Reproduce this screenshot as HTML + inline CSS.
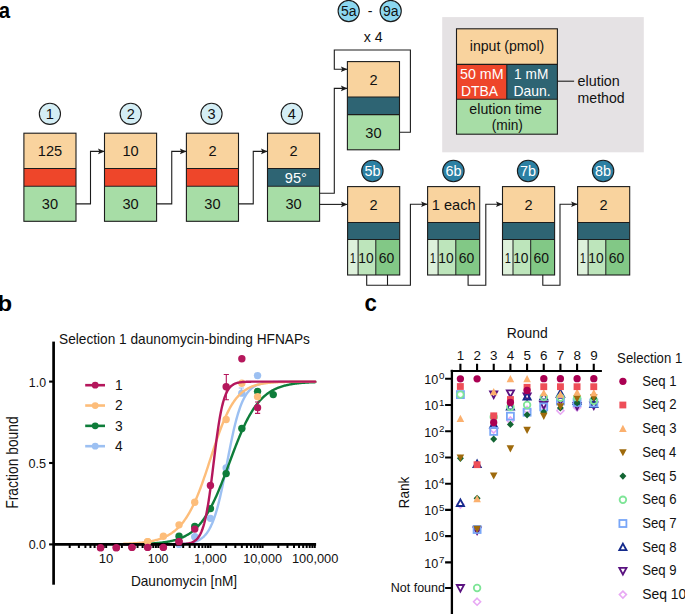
<!DOCTYPE html><html><head><meta charset="utf-8"><style>html,body{margin:0;padding:0;background:#fff;}svg{display:block;}</style></head><body>
<svg width="685" height="614" viewBox="0 0 685 614" font-family="'Liberation Sans', sans-serif">
<rect width="685" height="614" fill="#fff"/>
<text x="-1.21" y="17.80" font-size="22.6" fill="#000" font-weight="bold" textLength="11.33" lengthAdjust="spacingAndGlyphs">a</text>
<text x="-2.46" y="311.30" font-size="22.2" fill="#000" font-weight="bold" textLength="14.64" lengthAdjust="spacingAndGlyphs">b</text>
<text x="364.61" y="311.40" font-size="23" fill="#000" font-weight="bold" textLength="12.38" lengthAdjust="spacingAndGlyphs">c</text>
<rect x="23.9" y="133.2" width="52.1" height="35.30000000000001" fill="#f9d39e"/>
<rect x="23.9" y="168.5" width="52.1" height="17.80000000000001" fill="#ee462a"/>
<rect x="23.9" y="186.3" width="52.1" height="35.0" fill="#a7dda6"/>
<text x="49.95" y="209.3" font-size="14.6" text-anchor="middle" fill="#111" font-weight="normal" >30</text>
<path d="M23.9 168.5H76.0M23.9 186.3H76.0" stroke="#1c1c1c" stroke-width="1.1" fill="none"/>
<rect x="23.9" y="133.2" width="52.1" height="88.10000000000002" fill="none" stroke="#1c1c1c" stroke-width="1.1"/>
<text x="49.95" y="156.45" font-size="14.6" text-anchor="middle" fill="#111" font-weight="normal" >125</text>
<circle cx="49.9" cy="113.8" r="10.6" fill="#d4eef5" stroke="#1c1c1c" stroke-width="1.1"/>
<text x="49.9" y="118.89999999999999" font-size="14.6" text-anchor="middle" fill="#111" font-weight="normal" >1</text>
<rect x="104.5" y="133.2" width="52.1" height="35.30000000000001" fill="#f9d39e"/>
<rect x="104.5" y="168.5" width="52.1" height="17.80000000000001" fill="#ee462a"/>
<rect x="104.5" y="186.3" width="52.1" height="35.0" fill="#a7dda6"/>
<text x="130.55" y="209.3" font-size="14.6" text-anchor="middle" fill="#111" font-weight="normal" >30</text>
<path d="M104.5 168.5H156.6M104.5 186.3H156.6" stroke="#1c1c1c" stroke-width="1.1" fill="none"/>
<rect x="104.5" y="133.2" width="52.1" height="88.10000000000002" fill="none" stroke="#1c1c1c" stroke-width="1.1"/>
<text x="130.55" y="156.45" font-size="14.6" text-anchor="middle" fill="#111" font-weight="normal" >10</text>
<circle cx="130.7" cy="113.8" r="10.6" fill="#d4eef5" stroke="#1c1c1c" stroke-width="1.1"/>
<text x="130.7" y="118.89999999999999" font-size="14.6" text-anchor="middle" fill="#111" font-weight="normal" >2</text>
<rect x="186.4" y="133.2" width="52.1" height="35.30000000000001" fill="#f9d39e"/>
<rect x="186.4" y="168.5" width="52.1" height="17.80000000000001" fill="#ee462a"/>
<rect x="186.4" y="186.3" width="52.1" height="35.0" fill="#a7dda6"/>
<text x="212.45000000000002" y="209.3" font-size="14.6" text-anchor="middle" fill="#111" font-weight="normal" >30</text>
<path d="M186.4 168.5H238.5M186.4 186.3H238.5" stroke="#1c1c1c" stroke-width="1.1" fill="none"/>
<rect x="186.4" y="133.2" width="52.1" height="88.10000000000002" fill="none" stroke="#1c1c1c" stroke-width="1.1"/>
<text x="212.45000000000002" y="156.45" font-size="14.6" text-anchor="middle" fill="#111" font-weight="normal" >2</text>
<circle cx="211.5" cy="113.8" r="10.6" fill="#d4eef5" stroke="#1c1c1c" stroke-width="1.1"/>
<text x="211.5" y="118.89999999999999" font-size="14.6" text-anchor="middle" fill="#111" font-weight="normal" >3</text>
<rect x="267.5" y="133.2" width="52.1" height="35.30000000000001" fill="#f9d39e"/>
<rect x="267.5" y="168.5" width="52.1" height="17.80000000000001" fill="#2e6473"/>
<rect x="267.5" y="186.3" width="52.1" height="35.0" fill="#a7dda6"/>
<text x="293.55" y="209.3" font-size="14.6" text-anchor="middle" fill="#111" font-weight="normal" >30</text>
<path d="M267.5 168.5H319.6M267.5 186.3H319.6" stroke="#1c1c1c" stroke-width="1.1" fill="none"/>
<rect x="267.5" y="133.2" width="52.1" height="88.10000000000002" fill="none" stroke="#1c1c1c" stroke-width="1.1"/>
<text x="293.55" y="156.45" font-size="14.6" text-anchor="middle" fill="#111" font-weight="normal" >2</text>
<text x="295.85" y="182.6" font-size="14.6" text-anchor="middle" fill="#fff" font-weight="normal" >95°</text>
<circle cx="291.8" cy="113.8" r="10.6" fill="#d4eef5" stroke="#1c1c1c" stroke-width="1.1"/>
<text x="291.8" y="118.89999999999999" font-size="14.6" text-anchor="middle" fill="#111" font-weight="normal" >4</text>
<path d="M75.9 203.9 L90.5 203.9 L90.5 151.4 L104.5 151.4" stroke="#1c1c1c" stroke-width="1.1" fill="none"/>
<path d="M104.5 151.4 L98.0 148.6 L99.3 151.4 L98.0 154.20000000000002 Z" fill="#1c1c1c"/>
<path d="M156.5 203.9 L171.75 203.9 L171.75 151.4 L186.4 151.4" stroke="#1c1c1c" stroke-width="1.1" fill="none"/>
<path d="M186.4 151.4 L179.9 148.6 L181.20000000000002 151.4 L179.9 154.20000000000002 Z" fill="#1c1c1c"/>
<path d="M238.4 203.9 L253.25 203.9 L253.25 151.4 L267.5 151.4" stroke="#1c1c1c" stroke-width="1.1" fill="none"/>
<path d="M267.5 151.4 L261.0 148.6 L262.3 151.4 L261.0 154.20000000000002 Z" fill="#1c1c1c"/>
<rect x="347.4" y="61.6" width="52.1" height="35.4" fill="#f9d39e"/>
<rect x="347.4" y="97.0" width="52.1" height="17.599999999999994" fill="#2e6473"/>
<rect x="347.4" y="114.6" width="52.1" height="35.20000000000002" fill="#a7dda6"/>
<text x="373.45" y="137.7" font-size="14.6" text-anchor="middle" fill="#111" font-weight="normal" >30</text>
<path d="M347.4 97.0H399.5M347.4 114.6H399.5" stroke="#1c1c1c" stroke-width="1.1" fill="none"/>
<rect x="347.4" y="61.6" width="52.1" height="88.20000000000002" fill="none" stroke="#1c1c1c" stroke-width="1.1"/>
<text x="373.45" y="84.89999999999999" font-size="14.6" text-anchor="middle" fill="#111" font-weight="normal" >2</text>
<path d="M319.6 193.2 L334.3 193.2 L334.3 88.4 L347.4 88.4" stroke="#1c1c1c" stroke-width="1.1" fill="none"/>
<path d="M347.4 88.4 L340.9 85.60000000000001 L342.2 88.4 L340.9 91.2 Z" fill="#1c1c1c"/>
<path d="M399.5 132.3 L410.4 132.3 L410.4 50 L334.3 50 L334.3 69.3 L347.4 69.3" stroke="#1c1c1c" stroke-width="1.1" fill="none"/>
<path d="M347.4 69.3 L340.9 66.5 L342.2 69.3 L340.9 72.1 Z" fill="#1c1c1c"/>
<text x="373.3" y="41.8" font-size="14.2" text-anchor="middle" fill="#111" font-weight="normal" >x 4</text>
<circle cx="348.7" cy="11" r="10.6" fill="#8cd7f0" stroke="#1c1c1c" stroke-width="1.1"/>
<text x="348.7" y="16.1" font-size="14.0" text-anchor="middle" fill="#111" font-weight="normal" >5a</text>
<circle cx="390.7" cy="11" r="10.6" fill="#8cd7f0" stroke="#1c1c1c" stroke-width="1.1"/>
<text x="390.7" y="16.1" font-size="14.0" text-anchor="middle" fill="#111" font-weight="normal" >9a</text>
<text x="370" y="15.8" font-size="14.2" text-anchor="middle" fill="#111" font-weight="normal" >-</text>
<rect x="442.2" y="17.1" width="201.6" height="135.2" fill="#e5e2e4"/>
<rect x="456.5" y="28.8" width="100.89999999999998" height="35.60000000000001" fill="#f9d39e"/>
<rect x="456.5" y="64.4" width="50.30000000000001" height="34.9" fill="#ee462a"/>
<rect x="506.8" y="64.4" width="50.599999999999966" height="34.9" fill="#2e6473"/>
<rect x="456.5" y="99.3" width="100.89999999999998" height="34.9" fill="#a7dda6"/>
<path d="M456.5 64.4H557.4M456.5 99.3H557.4M506.8 64.4V99.3" stroke="#1c1c1c" stroke-width="1.1"/>
<rect x="456.5" y="28.8" width="100.89999999999998" height="105.39999999999999" fill="none" stroke="#1c1c1c" stroke-width="1.1"/>
<text x="507" y="51.1" font-size="14.6" text-anchor="middle" fill="#111" font-weight="normal" textLength="74.5" lengthAdjust="spacingAndGlyphs" >input (pmol)</text>
<text x="481.8" y="78.6" font-size="14.6" text-anchor="middle" fill="#fff" font-weight="normal" textLength="43.5" lengthAdjust="spacingAndGlyphs" >50 mM</text>
<text x="479.5" y="95.5" font-size="14.6" text-anchor="middle" fill="#fff" font-weight="normal" textLength="37" lengthAdjust="spacingAndGlyphs" >DTBA</text>
<text x="531.2" y="78.6" font-size="14.6" text-anchor="middle" fill="#fff" font-weight="normal" textLength="34.2" lengthAdjust="spacingAndGlyphs" >1 mM</text>
<text x="532" y="95.5" font-size="14.6" text-anchor="middle" fill="#fff" font-weight="normal" textLength="37.2" lengthAdjust="spacingAndGlyphs" >Daun.</text>
<text x="505.6" y="114.4" font-size="14.6" text-anchor="middle" fill="#111" font-weight="normal" textLength="72.5" lengthAdjust="spacingAndGlyphs" >elution time</text>
<text x="507.3" y="129.7" font-size="14.6" text-anchor="middle" fill="#111" font-weight="normal" textLength="31.3" lengthAdjust="spacingAndGlyphs" >(min)</text>
<path d="M557.4 81.2H574.1" stroke="#1c1c1c" stroke-width="1.1"/>
<text x="577.5" y="86" font-size="14.6" text-anchor="start" fill="#111" font-weight="normal" textLength="42.3" lengthAdjust="spacingAndGlyphs" >elution</text>
<text x="577.6" y="102.7" font-size="14.6" text-anchor="start" fill="#111" font-weight="normal" textLength="47" lengthAdjust="spacingAndGlyphs" >method</text>
<rect x="347.6" y="186.6" width="52.1" height="35.900000000000006" fill="#f9d39e"/>
<rect x="347.6" y="222.5" width="52.1" height="17.0" fill="#2e6473"/>
<rect x="347.6" y="239.5" width="10.5" height="35.5" fill="#def1db"/>
<rect x="358.1" y="239.5" width="17.69999999999999" height="35.5" fill="#bde5bb"/>
<rect x="375.8" y="239.5" width="23.900000000000034" height="35.5" fill="#82c886"/>
<path d="M358.1 239.5V275.0M375.8 239.5V275.0" stroke="#1c1c1c" stroke-width="1" fill="none"/>
<text x="349.87" y="262.75" font-size="15" fill="#111" textLength="6.14" lengthAdjust="spacingAndGlyphs">1</text>
<text x="358.26" y="262.75" font-size="15" fill="#111" textLength="15.35" lengthAdjust="spacingAndGlyphs">10</text>
<text x="378.70" y="262.75" font-size="15" fill="#111" textLength="15.52" lengthAdjust="spacingAndGlyphs">60</text>
<path d="M347.6 222.5H399.70000000000005M347.6 239.5H399.70000000000005" stroke="#1c1c1c" stroke-width="1.1" fill="none"/>
<rect x="347.6" y="186.6" width="52.1" height="88.4" fill="none" stroke="#1c1c1c" stroke-width="1.1"/>
<text x="373.65000000000003" y="210.15" font-size="14.6" text-anchor="middle" fill="#111" font-weight="normal" >2</text>
<circle cx="372.4" cy="171" r="10.7" fill="#2c80a3" stroke="#1c1c1c" stroke-width="1.1"/>
<text x="372.4" y="176.1" font-size="14.4" text-anchor="middle" fill="#fff" font-weight="normal" >5b</text>
<rect x="427.6" y="186.6" width="52.1" height="35.900000000000006" fill="#f9d39e"/>
<rect x="427.6" y="222.5" width="52.1" height="17.0" fill="#2e6473"/>
<rect x="427.6" y="239.5" width="10.5" height="35.5" fill="#def1db"/>
<rect x="438.1" y="239.5" width="17.69999999999999" height="35.5" fill="#bde5bb"/>
<rect x="455.8" y="239.5" width="23.900000000000034" height="35.5" fill="#82c886"/>
<path d="M438.1 239.5V275.0M455.8 239.5V275.0" stroke="#1c1c1c" stroke-width="1" fill="none"/>
<text x="429.87" y="262.75" font-size="15" fill="#111" textLength="6.14" lengthAdjust="spacingAndGlyphs">1</text>
<text x="438.26" y="262.75" font-size="15" fill="#111" textLength="15.35" lengthAdjust="spacingAndGlyphs">10</text>
<text x="458.70" y="262.75" font-size="15" fill="#111" textLength="15.52" lengthAdjust="spacingAndGlyphs">60</text>
<path d="M427.6 222.5H479.70000000000005M427.6 239.5H479.70000000000005" stroke="#1c1c1c" stroke-width="1.1" fill="none"/>
<rect x="427.6" y="186.6" width="52.1" height="88.4" fill="none" stroke="#1c1c1c" stroke-width="1.1"/>
<text x="453.65000000000003" y="210.15" font-size="14.6" text-anchor="middle" fill="#111" font-weight="normal" >1 each</text>
<circle cx="453.4" cy="171" r="10.7" fill="#2c80a3" stroke="#1c1c1c" stroke-width="1.1"/>
<text x="453.4" y="176.1" font-size="14.4" text-anchor="middle" fill="#fff" font-weight="normal" >6b</text>
<rect x="502.5" y="186.6" width="52.1" height="35.900000000000006" fill="#f9d39e"/>
<rect x="502.5" y="222.5" width="52.1" height="17.0" fill="#2e6473"/>
<rect x="502.5" y="239.5" width="10.5" height="35.5" fill="#def1db"/>
<rect x="513.0" y="239.5" width="17.700000000000045" height="35.5" fill="#bde5bb"/>
<rect x="530.7" y="239.5" width="23.899999999999977" height="35.5" fill="#82c886"/>
<path d="M513.0 239.5V275.0M530.7 239.5V275.0" stroke="#1c1c1c" stroke-width="1" fill="none"/>
<text x="504.77" y="262.75" font-size="15" fill="#111" textLength="6.14" lengthAdjust="spacingAndGlyphs">1</text>
<text x="513.17" y="262.75" font-size="15" fill="#111" textLength="15.35" lengthAdjust="spacingAndGlyphs">10</text>
<text x="533.60" y="262.75" font-size="15" fill="#111" textLength="15.52" lengthAdjust="spacingAndGlyphs">60</text>
<path d="M502.5 222.5H554.6M502.5 239.5H554.6" stroke="#1c1c1c" stroke-width="1.1" fill="none"/>
<rect x="502.5" y="186.6" width="52.1" height="88.4" fill="none" stroke="#1c1c1c" stroke-width="1.1"/>
<text x="528.55" y="210.15" font-size="14.6" text-anchor="middle" fill="#111" font-weight="normal" >2</text>
<circle cx="528.1" cy="171" r="10.7" fill="#2c80a3" stroke="#1c1c1c" stroke-width="1.1"/>
<text x="528.1" y="176.1" font-size="14.4" text-anchor="middle" fill="#fff" font-weight="normal" >7b</text>
<rect x="577.6" y="186.6" width="52.1" height="35.900000000000006" fill="#f9d39e"/>
<rect x="577.6" y="222.5" width="52.1" height="17.0" fill="#2e6473"/>
<rect x="577.6" y="239.5" width="10.5" height="35.5" fill="#def1db"/>
<rect x="588.1" y="239.5" width="17.700000000000045" height="35.5" fill="#bde5bb"/>
<rect x="605.8000000000001" y="239.5" width="23.899999999999977" height="35.5" fill="#82c886"/>
<path d="M588.1 239.5V275.0M605.8000000000001 239.5V275.0" stroke="#1c1c1c" stroke-width="1" fill="none"/>
<text x="579.87" y="262.75" font-size="15" fill="#111" textLength="6.14" lengthAdjust="spacingAndGlyphs">1</text>
<text x="588.27" y="262.75" font-size="15" fill="#111" textLength="15.35" lengthAdjust="spacingAndGlyphs">10</text>
<text x="608.70" y="262.75" font-size="15" fill="#111" textLength="15.52" lengthAdjust="spacingAndGlyphs">60</text>
<path d="M577.6 222.5H629.7M577.6 239.5H629.7" stroke="#1c1c1c" stroke-width="1.1" fill="none"/>
<rect x="577.6" y="186.6" width="52.1" height="88.4" fill="none" stroke="#1c1c1c" stroke-width="1.1"/>
<text x="603.65" y="210.15" font-size="14.6" text-anchor="middle" fill="#111" font-weight="normal" >2</text>
<circle cx="603.1" cy="171" r="10.7" fill="#2c80a3" stroke="#1c1c1c" stroke-width="1.1"/>
<text x="603.1" y="176.1" font-size="14.4" text-anchor="middle" fill="#fff" font-weight="normal" >8b</text>
<path d="M319.6 204.4 L347.4 204.4" stroke="#1c1c1c" stroke-width="1.1" fill="none"/>
<path d="M347.4 204.4 L340.9 201.6 L342.2 204.4 L340.9 207.20000000000002 Z" fill="#1c1c1c"/>
<path d="M366.7 275 L366.7 285.2 L410.4 285.2 L410.4 204.2 L427.6 204.2" stroke="#1c1c1c" stroke-width="1.1" fill="none"/>
<path d="M427.6 204.2 L421.1 201.39999999999998 L422.40000000000003 204.2 L421.1 207.0 Z" fill="#1c1c1c"/>
<path d="M387.5 275V285.2" stroke="#1c1c1c" stroke-width="1.1"/>
<path d="M468.1 275 L468.1 285.2 L485.8 285.2 L485.8 204.2 L502.5 204.2" stroke="#1c1c1c" stroke-width="1.1" fill="none"/>
<path d="M502.5 204.2 L496.0 201.39999999999998 L497.3 204.2 L496.0 207.0 Z" fill="#1c1c1c"/>
<path d="M542.8 275 L542.8 285.2 L560 285.2 L560 204.2 L577.6 204.2" stroke="#1c1c1c" stroke-width="1.1" fill="none"/>
<path d="M577.6 204.2 L571.1 201.39999999999998 L572.4 204.2 L571.1 207.0 Z" fill="#1c1c1c"/>
<text x="59.08" y="344.40" font-size="14.5" fill="#111" textLength="250.77" lengthAdjust="spacingAndGlyphs">Selection 1 daunomycin-binding HFNAPs</text>
<path d="M49.1 381.60H53.6" stroke="#000" stroke-width="2.1"/>
<text x="28.87" y="386.50" font-size="13.4" fill="#111" textLength="17.16" lengthAdjust="spacingAndGlyphs">1.0</text>
<path d="M49.1 463.00H53.6" stroke="#000" stroke-width="2.1"/>
<text x="28.49" y="467.90" font-size="13.4" fill="#111" textLength="17.62" lengthAdjust="spacingAndGlyphs">0.5</text>
<path d="M49.1 544.40H53.6" stroke="#000" stroke-width="2.1"/>
<text x="28.70" y="549.30" font-size="13.4" fill="#111" textLength="17.34" lengthAdjust="spacingAndGlyphs">0.0</text>
<text x="98.72" y="563.10" font-size="13.2" fill="#111" textLength="14.57" lengthAdjust="spacingAndGlyphs">10</text>
<text x="147.77" y="563.10" font-size="13.2" fill="#111" textLength="20.71" lengthAdjust="spacingAndGlyphs">100</text>
<text x="194.12" y="563.10" font-size="13.2" fill="#111" textLength="32.77" lengthAdjust="spacingAndGlyphs">1,000</text>
<text x="243.25" y="563.10" font-size="13.2" fill="#111" textLength="38.78" lengthAdjust="spacingAndGlyphs">10,000</text>
<text x="291.93" y="563.10" font-size="13.2" fill="#111" textLength="46.51" lengthAdjust="spacingAndGlyphs">100,000</text>
<text x="130.91" y="585.90" font-size="14.5" fill="#111" textLength="106.26" lengthAdjust="spacingAndGlyphs">Daunomycin [nM]</text>
<text x="-508.71" y="0" font-size="15.6" fill="#111" textLength="92.42" lengthAdjust="spacingAndGlyphs" transform="translate(17.90 0) rotate(-90)">Fraction bound</text>
<polyline points="124.01,544.40 124.76,544.40 125.51,544.40 126.26,544.40 127.01,544.40 127.76,544.40 128.51,544.40 129.26,544.40 130.01,544.40 130.76,544.40 131.51,544.40 132.26,544.40 133.01,544.40 133.76,544.40 134.51,544.40 135.26,544.40 136.01,544.40 136.76,544.40 137.51,544.40 138.26,544.40 139.01,544.40 139.76,544.40 140.51,544.40 141.26,544.40 142.01,544.40 142.76,544.40 143.51,544.40 144.26,544.40 145.01,544.40 145.76,544.40 146.51,544.39 147.26,544.39 148.01,544.39 148.76,544.39 149.51,544.39 150.26,544.39 151.01,544.39 151.76,544.39 152.51,544.39 153.26,544.39 154.01,544.39 154.76,544.38 155.51,544.38 156.26,544.38 157.01,544.38 157.76,544.38 158.51,544.37 159.26,544.37 160.01,544.37 160.76,544.37 161.51,544.36 162.26,544.36 163.01,544.36 163.76,544.35 164.51,544.35 165.26,544.34 166.01,544.33 166.76,544.33 167.51,544.32 168.26,544.31 169.01,544.30 169.76,544.29 170.51,544.28 171.26,544.27 172.01,544.26 172.76,544.24 173.51,544.23 174.26,544.21 175.01,544.19 175.76,544.17 176.51,544.15 177.26,544.12 178.01,544.09 178.76,544.06 179.51,544.03 180.26,543.99 181.01,543.95 181.76,543.91 182.51,543.86 183.26,543.80 184.01,543.74 184.76,543.68 185.51,543.61 186.26,543.53 187.01,543.44 187.76,543.34 188.51,543.24 189.26,543.12 190.01,542.99 190.76,542.85 191.51,542.70 192.26,542.53 193.01,542.34 193.76,542.14 194.51,541.91 195.26,541.66 196.01,541.39 196.76,541.10 197.51,540.77 198.26,540.41 199.01,540.02 199.76,539.60 200.51,539.13 201.26,538.61 202.01,538.05 202.76,537.44 203.51,536.77 204.26,536.04 205.01,535.25 205.76,534.38 206.51,533.44 207.26,532.42 208.01,531.31 208.76,530.10 209.51,528.80 210.26,527.39 211.01,525.87 211.76,524.24 212.51,522.48 213.26,520.59 214.01,518.57 214.76,516.42 215.51,514.12 216.26,511.68 217.01,509.10 217.76,506.37 218.51,503.50 219.26,500.49 220.01,497.35 220.76,494.07 221.51,490.67 222.26,487.16 223.01,483.55 223.76,479.84 224.51,476.07 225.26,472.23 226.01,468.36 226.76,464.46 227.51,460.55 228.26,456.65 229.01,452.79 229.76,448.96 230.51,445.21 231.26,441.53 232.01,437.94 232.76,434.45 233.51,431.09 234.26,427.84 235.01,424.73 235.76,421.75 236.51,418.92 237.26,416.23 238.01,413.68 238.76,411.28 239.51,409.02 240.26,406.90 241.01,404.92 241.76,403.06 242.51,401.34 243.26,399.73 244.01,398.24 244.76,396.86 245.51,395.58 246.26,394.40 247.01,393.31 247.76,392.31 248.51,391.39 249.26,390.54 250.01,389.76 250.76,389.05 251.51,388.40 252.26,387.80 253.01,387.25 253.76,386.75 254.51,386.29 255.26,385.87 256.01,385.49 256.76,385.14 257.51,384.83 258.26,384.54 259.01,384.27 259.76,384.03 260.51,383.81 261.26,383.61 262.01,383.43 262.76,383.26 263.51,383.11 264.26,382.97 265.01,382.85 265.76,382.74 266.51,382.63 267.26,382.54 268.01,382.45 268.76,382.38 269.51,382.30 270.26,382.24 271.01,382.18 271.76,382.13 272.51,382.08 273.26,382.04 274.01,382.00 274.76,381.96 275.51,381.93 276.26,381.90 277.01,381.87 277.76,381.85 278.51,381.82 279.26,381.80 280.01,381.78 280.76,381.77 281.51,381.75 282.26,381.74 283.01,381.73 283.76,381.71 284.51,381.70 285.26,381.69 286.01,381.69 286.76,381.68 287.51,381.67 288.26,381.66 289.01,381.66 289.76,381.65 290.51,381.65 291.26,381.64 292.01,381.64 292.76,381.64 293.51,381.63 294.26,381.63 295.01,381.63 295.76,381.62 296.51,381.62 297.26,381.62 298.01,381.62 298.76,381.62 299.51,381.62 300.26,381.61 301.01,381.61 301.76,381.61 302.51,381.61 303.26,381.61 304.01,381.61 304.76,381.61 305.51,381.61 306.26,381.61 307.01,381.61 307.76,381.61 308.51,381.60 309.26,381.60 310.01,381.60 310.76,381.60 311.51,381.60 312.26,381.60 313.01,381.60 313.76,381.60 314.51,381.60 315.26,381.60" fill="none" stroke="#9cc0f2" stroke-width="2.4" stroke-linejoin="round" stroke-linecap="round"/>
<path d="M241.3 388V393.5M238.70000000000002 388H243.9M238.70000000000002 393.5H243.9" stroke="#9cc0f2" stroke-width="1.1"/>
<circle cx="179.05" cy="544.40" r="3.7" fill="#9cc0f2"/>
<circle cx="194.75" cy="536.75" r="3.7" fill="#9cc0f2"/>
<circle cx="210.45" cy="518.35" r="3.7" fill="#9cc0f2"/>
<circle cx="226.15" cy="467.88" r="3.7" fill="#9cc0f2"/>
<circle cx="241.85" cy="393.16" r="3.7" fill="#9cc0f2"/>
<circle cx="257.55" cy="375.58" r="3.7" fill="#9cc0f2"/>
<polyline points="124.01,544.25 124.76,544.24 125.51,544.23 126.26,544.22 127.01,544.21 127.76,544.20 128.51,544.20 129.26,544.18 130.01,544.17 130.76,544.16 131.51,544.15 132.26,544.14 133.01,544.12 133.76,544.11 134.51,544.10 135.26,544.08 136.01,544.06 136.76,544.05 137.51,544.03 138.26,544.01 139.01,543.99 139.76,543.97 140.51,543.95 141.26,543.92 142.01,543.90 142.76,543.87 143.51,543.85 144.26,543.82 145.01,543.79 145.76,543.76 146.51,543.73 147.26,543.69 148.01,543.66 148.76,543.62 149.51,543.58 150.26,543.54 151.01,543.49 151.76,543.45 152.51,543.40 153.26,543.35 154.01,543.30 154.76,543.24 155.51,543.18 156.26,543.12 157.01,543.06 157.76,542.99 158.51,542.92 159.26,542.84 160.01,542.76 160.76,542.68 161.51,542.60 162.26,542.50 163.01,542.41 163.76,542.31 164.51,542.20 165.26,542.09 166.01,541.98 166.76,541.86 167.51,541.73 168.26,541.60 169.01,541.45 169.76,541.31 170.51,541.15 171.26,540.99 172.01,540.82 172.76,540.64 173.51,540.46 174.26,540.26 175.01,540.06 175.76,539.84 176.51,539.62 177.26,539.38 178.01,539.13 178.76,538.87 179.51,538.60 180.26,538.32 181.01,538.02 181.76,537.71 182.51,537.38 183.26,537.04 184.01,536.68 184.76,536.31 185.51,535.92 186.26,535.51 187.01,535.08 187.76,534.64 188.51,534.17 189.26,533.69 190.01,533.18 190.76,532.65 191.51,532.10 192.26,531.52 193.01,530.92 193.76,530.29 194.51,529.64 195.26,528.96 196.01,528.25 196.76,527.51 197.51,526.74 198.26,525.95 199.01,525.12 199.76,524.26 200.51,523.36 201.26,522.44 202.01,521.47 202.76,520.48 203.51,519.45 204.26,518.38 205.01,517.28 205.76,516.13 206.51,514.95 207.26,513.74 208.01,512.48 208.76,511.19 209.51,509.86 210.26,508.48 211.01,507.08 211.76,505.63 212.51,504.14 213.26,502.62 214.01,501.06 214.76,499.46 215.51,497.82 216.26,496.15 217.01,494.45 217.76,492.72 218.51,490.95 219.26,489.15 220.01,487.32 220.76,485.47 221.51,483.59 222.26,481.68 223.01,479.76 223.76,477.81 224.51,475.85 225.26,473.87 226.01,471.88 226.76,469.88 227.51,467.86 228.26,465.85 229.01,463.83 229.76,461.81 230.51,459.79 231.26,457.77 232.01,455.76 232.76,453.76 233.51,451.77 234.26,449.79 235.01,447.83 235.76,445.89 236.51,443.97 237.26,442.07 238.01,440.19 238.76,438.34 239.51,436.52 240.26,434.73 241.01,432.97 241.76,431.24 242.51,429.54 243.26,427.88 244.01,426.25 244.76,424.66 245.51,423.10 246.26,421.59 247.01,420.11 247.76,418.67 248.51,417.26 249.26,415.90 250.01,414.57 250.76,413.29 251.51,412.04 252.26,410.83 253.01,409.66 253.76,408.52 254.51,407.42 255.26,406.36 256.01,405.34 256.76,404.35 257.51,403.39 258.26,402.47 259.01,401.58 259.76,400.73 260.51,399.91 261.26,399.12 262.01,398.35 262.76,397.62 263.51,396.92 264.26,396.24 265.01,395.59 265.76,394.97 266.51,394.38 267.26,393.80 268.01,393.25 268.76,392.73 269.51,392.22 270.26,391.74 271.01,391.28 271.76,390.84 272.51,390.41 273.26,390.01 274.01,389.62 274.76,389.25 275.51,388.90 276.26,388.56 277.01,388.23 277.76,387.93 278.51,387.63 279.26,387.35 280.01,387.08 280.76,386.82 281.51,386.58 282.26,386.34 283.01,386.12 283.76,385.91 284.51,385.70 285.26,385.51 286.01,385.32 286.76,385.15 287.51,384.98 288.26,384.82 289.01,384.67 289.76,384.52 290.51,384.38 291.26,384.25 292.01,384.12 292.76,384.00 293.51,383.89 294.26,383.78 295.01,383.67 295.76,383.57 296.51,383.48 297.26,383.39 298.01,383.30 298.76,383.22 299.51,383.14 300.26,383.07 301.01,383.00 301.76,382.93 302.51,382.87 303.26,382.81 304.01,382.75 304.76,382.69 305.51,382.64 306.26,382.59 307.01,382.54 307.76,382.50 308.51,382.45 309.26,382.41 310.01,382.37 310.76,382.34 311.51,382.30 312.26,382.27 313.01,382.23 313.76,382.20 314.51,382.18 315.26,382.15" fill="none" stroke="#0e7d3a" stroke-width="2.4" stroke-linejoin="round" stroke-linecap="round"/>
<circle cx="179.05" cy="536.26" r="3.7" fill="#0e7d3a"/>
<circle cx="194.75" cy="526.49" r="3.7" fill="#0e7d3a"/>
<circle cx="210.45" cy="508.58" r="3.7" fill="#0e7d3a"/>
<circle cx="226.15" cy="473.58" r="3.7" fill="#0e7d3a"/>
<circle cx="241.85" cy="428.49" r="3.7" fill="#0e7d3a"/>
<circle cx="257.55" cy="391.37" r="3.7" fill="#0e7d3a"/>
<circle cx="273.24" cy="394.62" r="3.7" fill="#0e7d3a"/>
<polyline points="124.01,543.80 124.76,543.77 125.51,543.74 126.26,543.71 127.01,543.68 127.76,543.65 128.51,543.61 129.26,543.57 130.01,543.53 130.76,543.49 131.51,543.45 132.26,543.40 133.01,543.35 133.76,543.30 134.51,543.25 135.26,543.20 136.01,543.14 136.76,543.08 137.51,543.02 138.26,542.95 139.01,542.88 139.76,542.81 140.51,542.74 141.26,542.66 142.01,542.57 142.76,542.49 143.51,542.40 144.26,542.30 145.01,542.20 145.76,542.10 146.51,541.99 147.26,541.87 148.01,541.75 148.76,541.63 149.51,541.50 150.26,541.36 151.01,541.21 151.76,541.06 152.51,540.90 153.26,540.74 154.01,540.57 154.76,540.38 155.51,540.19 156.26,539.99 157.01,539.79 157.76,539.57 158.51,539.34 159.26,539.10 160.01,538.85 160.76,538.59 161.51,538.32 162.26,538.03 163.01,537.73 163.76,537.42 164.51,537.09 165.26,536.75 166.01,536.39 166.76,536.01 167.51,535.62 168.26,535.21 169.01,534.78 169.76,534.33 170.51,533.87 171.26,533.38 172.01,532.87 172.76,532.33 173.51,531.78 174.26,531.19 175.01,530.59 175.76,529.95 176.51,529.29 177.26,528.60 178.01,527.88 178.76,527.14 179.51,526.35 180.26,525.54 181.01,524.69 181.76,523.81 182.51,522.89 183.26,521.94 184.01,520.94 184.76,519.91 185.51,518.84 186.26,517.73 187.01,516.57 187.76,515.37 188.51,514.13 189.26,512.85 190.01,511.51 190.76,510.14 191.51,508.71 192.26,507.24 193.01,505.72 193.76,504.15 194.51,502.54 195.26,500.88 196.01,499.17 196.76,497.41 197.51,495.61 198.26,493.76 199.01,491.87 199.76,489.93 200.51,487.95 201.26,485.93 202.01,483.87 202.76,481.78 203.51,479.64 204.26,477.48 205.01,475.29 205.76,473.07 206.51,470.82 207.26,468.56 208.01,466.28 208.76,463.98 209.51,461.68 210.26,459.37 211.01,457.05 211.76,454.74 212.51,452.43 213.26,450.14 214.01,447.85 214.76,445.59 215.51,443.34 216.26,441.12 217.01,438.92 217.76,436.76 218.51,434.63 219.26,432.54 220.01,430.49 220.76,428.48 221.51,426.52 222.26,424.60 223.01,422.73 223.76,420.91 224.51,419.15 225.26,417.43 226.01,415.77 226.76,414.17 227.51,412.62 228.26,411.12 229.01,409.68 229.76,408.29 230.51,406.95 231.26,405.67 232.01,404.44 232.76,403.26 233.51,402.13 234.26,401.06 235.01,400.02 235.76,399.04 236.51,398.10 237.26,397.21 238.01,396.36 238.76,395.55 239.51,394.78 240.26,394.04 241.01,393.35 241.76,392.69 242.51,392.06 243.26,391.47 244.01,390.91 244.76,390.38 245.51,389.87 246.26,389.40 247.01,388.95 247.76,388.52 248.51,388.12 249.26,387.74 250.01,387.38 250.76,387.04 251.51,386.72 252.26,386.42 253.01,386.14 253.76,385.87 254.51,385.62 255.26,385.38 256.01,385.15 256.76,384.94 257.51,384.74 258.26,384.55 259.01,384.38 259.76,384.21 260.51,384.06 261.26,383.91 262.01,383.77 262.76,383.64 263.51,383.52 264.26,383.40 265.01,383.29 265.76,383.19 266.51,383.09 267.26,383.00 268.01,382.92 268.76,382.84 269.51,382.76 270.26,382.69 271.01,382.63 271.76,382.57 272.51,382.51 273.26,382.45 274.01,382.40 274.76,382.35 275.51,382.31 276.26,382.26 277.01,382.22 277.76,382.19 278.51,382.15 279.26,382.12 280.01,382.09 280.76,382.06 281.51,382.03 282.26,382.00 283.01,381.98 283.76,381.95 284.51,381.93 285.26,381.91 286.01,381.89 286.76,381.88 287.51,381.86 288.26,381.84 289.01,381.83 289.76,381.81 290.51,381.80 291.26,381.79 292.01,381.78 292.76,381.77 293.51,381.76 294.26,381.75 295.01,381.74 295.76,381.73 296.51,381.72 297.26,381.71 298.01,381.71 298.76,381.70 299.51,381.69 300.26,381.69 301.01,381.68 301.76,381.68 302.51,381.67 303.26,381.67 304.01,381.66 304.76,381.66 305.51,381.66 306.26,381.65 307.01,381.65 307.76,381.65 308.51,381.64 309.26,381.64 310.01,381.64 310.76,381.64 311.51,381.63 312.26,381.63 313.01,381.63 313.76,381.63 314.51,381.63 315.26,381.63" fill="none" stroke="#fdbd7a" stroke-width="2.4" stroke-linejoin="round" stroke-linecap="round"/>
<circle cx="147.66" cy="541.63" r="3.7" fill="#fdbd7a"/>
<circle cx="163.35" cy="536.26" r="3.7" fill="#fdbd7a"/>
<circle cx="179.05" cy="524.86" r="3.7" fill="#fdbd7a"/>
<circle cx="194.75" cy="502.23" r="3.7" fill="#fdbd7a"/>
<circle cx="226.15" cy="419.53" r="3.7" fill="#fdbd7a"/>
<circle cx="241.85" cy="383.23" r="3.7" fill="#fdbd7a"/>
<circle cx="257.55" cy="396.74" r="3.7" fill="#fdbd7a"/>
<polyline points="124.01,544.40 124.76,544.40 125.51,544.40 126.26,544.40 127.01,544.40 127.76,544.40 128.51,544.40 129.26,544.40 130.01,544.40 130.76,544.40 131.51,544.40 132.26,544.40 133.01,544.40 133.76,544.40 134.51,544.40 135.26,544.40 136.01,544.40 136.76,544.40 137.51,544.40 138.26,544.40 139.01,544.40 139.76,544.40 140.51,544.40 141.26,544.40 142.01,544.40 142.76,544.40 143.51,544.40 144.26,544.40 145.01,544.40 145.76,544.40 146.51,544.40 147.26,544.40 148.01,544.40 148.76,544.40 149.51,544.40 150.26,544.40 151.01,544.40 151.76,544.40 152.51,544.40 153.26,544.40 154.01,544.40 154.76,544.40 155.51,544.40 156.26,544.40 157.01,544.40 157.76,544.40 158.51,544.40 159.26,544.40 160.01,544.40 160.76,544.40 161.51,544.40 162.26,544.40 163.01,544.39 163.76,544.39 164.51,544.39 165.26,544.39 166.01,544.39 166.76,544.39 167.51,544.39 168.26,544.38 169.01,544.38 169.76,544.38 170.51,544.37 171.26,544.37 172.01,544.37 172.76,544.36 173.51,544.35 174.26,544.35 175.01,544.34 175.76,544.33 176.51,544.31 177.26,544.30 178.01,544.28 178.76,544.26 179.51,544.24 180.26,544.21 181.01,544.18 181.76,544.15 182.51,544.11 183.26,544.06 184.01,544.00 184.76,543.94 185.51,543.86 186.26,543.77 187.01,543.67 187.76,543.55 188.51,543.41 189.26,543.25 190.01,543.06 190.76,542.85 191.51,542.59 192.26,542.30 193.01,541.96 193.76,541.57 194.51,541.11 195.26,540.58 196.01,539.97 196.76,539.26 197.51,538.45 198.26,537.51 199.01,536.43 199.76,535.20 200.51,533.78 201.26,532.16 202.01,530.32 202.76,528.24 203.51,525.88 204.26,523.23 205.01,520.26 205.76,516.96 206.51,513.31 207.26,509.30 208.01,504.92 208.76,500.19 209.51,495.12 210.26,489.73 211.01,484.07 211.76,478.18 212.51,472.12 213.26,465.96 214.01,459.76 214.76,453.60 215.51,447.55 216.26,441.67 217.01,436.02 217.76,430.65 218.51,425.59 219.26,420.87 220.01,416.51 220.76,412.52 221.51,408.88 222.26,405.60 223.01,402.64 223.76,400.01 224.51,397.66 225.26,395.59 226.01,393.76 226.76,392.15 227.51,390.74 228.26,389.52 229.01,388.44 229.76,387.51 230.51,386.70 231.26,386.00 232.01,385.39 232.76,384.87 233.51,384.41 234.26,384.02 235.01,383.69 235.76,383.39 236.51,383.14 237.26,382.93 238.01,382.74 238.76,382.58 239.51,382.44 240.26,382.32 241.01,382.22 241.76,382.13 242.51,382.06 243.26,381.99 244.01,381.94 244.76,381.89 245.51,381.85 246.26,381.81 247.01,381.78 247.76,381.76 248.51,381.74 249.26,381.72 250.01,381.70 250.76,381.69 251.51,381.67 252.26,381.66 253.01,381.65 253.76,381.65 254.51,381.64 255.26,381.63 256.01,381.63 256.76,381.63 257.51,381.62 258.26,381.62 259.01,381.62 259.76,381.61 260.51,381.61 261.26,381.61 262.01,381.61 262.76,381.61 263.51,381.61 264.26,381.61 265.01,381.60 265.76,381.60 266.51,381.60 267.26,381.60 268.01,381.60 268.76,381.60 269.51,381.60 270.26,381.60 271.01,381.60 271.76,381.60 272.51,381.60 273.26,381.60 274.01,381.60 274.76,381.60 275.51,381.60 276.26,381.60 277.01,381.60 277.76,381.60 278.51,381.60 279.26,381.60 280.01,381.60 280.76,381.60 281.51,381.60 282.26,381.60 283.01,381.60 283.76,381.60 284.51,381.60 285.26,381.60 286.01,381.60 286.76,381.60 287.51,381.60 288.26,381.60 289.01,381.60 289.76,381.60 290.51,381.60 291.26,381.60 292.01,381.60 292.76,381.60 293.51,381.60 294.26,381.60 295.01,381.60 295.76,381.60 296.51,381.60 297.26,381.60 298.01,381.60 298.76,381.60 299.51,381.60 300.26,381.60 301.01,381.60 301.76,381.60 302.51,381.60 303.26,381.60 304.01,381.60 304.76,381.60 305.51,381.60 306.26,381.60 307.01,381.60 307.76,381.60 308.51,381.60 309.26,381.60 310.01,381.60 310.76,381.60 311.51,381.60 312.26,381.60 313.01,381.60 313.76,381.60 314.51,381.60 315.26,381.60" fill="none" stroke="#b5175c" stroke-width="2.4" stroke-linejoin="round" stroke-linecap="round"/>
<path d="M226.3 374.5V399.7M223.70000000000002 374.5H228.9M223.70000000000002 399.7H228.9" stroke="#b5175c" stroke-width="1.1"/>
<path d="M257.6 402V413.4M255.00000000000003 402H260.20000000000005M255.00000000000003 413.4H260.20000000000005" stroke="#b5175c" stroke-width="1.1"/>
<circle cx="100.56" cy="547.66" r="3.7" fill="#b5175c"/>
<circle cx="116.26" cy="547.66" r="3.7" fill="#b5175c"/>
<circle cx="131.96" cy="547.33" r="3.7" fill="#b5175c"/>
<circle cx="147.66" cy="547.33" r="3.7" fill="#b5175c"/>
<circle cx="163.35" cy="547.33" r="3.7" fill="#b5175c"/>
<circle cx="179.05" cy="541.63" r="3.7" fill="#b5175c"/>
<circle cx="194.75" cy="529.10" r="3.7" fill="#b5175c"/>
<circle cx="210.45" cy="485.47" r="3.7" fill="#b5175c"/>
<circle cx="226.15" cy="386.81" r="3.7" fill="#b5175c"/>
<circle cx="241.85" cy="358.81" r="3.7" fill="#b5175c"/>
<circle cx="257.55" cy="407.65" r="3.7" fill="#b5175c"/>
<path d="M53.6 341.6V584.7" stroke="#000" stroke-width="2.7"/>
<path d="M53.6 544.4H316.1" stroke="#000" stroke-width="2.6"/>
<path d="M69.70 544.4V548.0M78.88 544.4V548.0M85.40 544.4V548.0M90.45 544.4V548.0M94.58 544.4V548.0M98.07 544.4V548.0M101.10 544.4V548.0M103.76 544.4V548.0M106.15 544.4V548.0M121.85 544.4V548.0M131.03 544.4V548.0M137.55 544.4V548.0M142.60 544.4V548.0M146.73 544.4V548.0M150.22 544.4V548.0M153.25 544.4V548.0M155.91 544.4V548.0M158.30 544.4V548.0M174.00 544.4V548.0M183.18 544.4V548.0M189.70 544.4V548.0M194.75 544.4V548.0M198.88 544.4V548.0M202.37 544.4V548.0M205.40 544.4V548.0M208.06 544.4V548.0M210.45 544.4V548.0M226.15 544.4V548.0M235.33 544.4V548.0M241.85 544.4V548.0M246.90 544.4V548.0M251.03 544.4V548.0M254.52 544.4V548.0M257.55 544.4V548.0M260.21 544.4V548.0M262.60 544.4V548.0M278.30 544.4V548.0M287.48 544.4V548.0M294.00 544.4V548.0M299.05 544.4V548.0M303.18 544.4V548.0M306.67 544.4V548.0M309.70 544.4V548.0M312.36 544.4V548.0M314.75 544.4V548.0" stroke="#000" stroke-width="2"/>
<circle cx="147.66" cy="541.63" r="3.7" fill="#fdbd7a"/>
<circle cx="100.56" cy="547.66" r="3.7" fill="#b5175c"/>
<circle cx="116.26" cy="547.66" r="3.7" fill="#b5175c"/>
<circle cx="131.96" cy="547.33" r="3.7" fill="#b5175c"/>
<circle cx="147.66" cy="547.33" r="3.7" fill="#b5175c"/>
<circle cx="163.35" cy="547.33" r="3.7" fill="#b5175c"/>
<circle cx="179.05" cy="541.63" r="3.7" fill="#b5175c"/>
<path d="M85.2 385.20H105" stroke="#b5175c" stroke-width="2.6"/>
<circle cx="95.2" cy="385.20" r="3.4" fill="#b5175c"/>
<text x="115.0" y="390.09999999999997" font-size="13.8" text-anchor="start" fill="#111" font-weight="normal" >1</text>
<path d="M85.2 405.53H105" stroke="#fdbd7a" stroke-width="2.6"/>
<circle cx="95.2" cy="405.53" r="3.4" fill="#fdbd7a"/>
<text x="115.0" y="410.42999999999995" font-size="13.8" text-anchor="start" fill="#111" font-weight="normal" >2</text>
<path d="M85.2 425.86H105" stroke="#0e7d3a" stroke-width="2.6"/>
<circle cx="95.2" cy="425.86" r="3.4" fill="#0e7d3a"/>
<text x="115.0" y="430.76" font-size="13.8" text-anchor="start" fill="#111" font-weight="normal" >3</text>
<path d="M85.2 446.19H105" stroke="#9cc0f2" stroke-width="2.6"/>
<circle cx="95.2" cy="446.19" r="3.4" fill="#9cc0f2"/>
<text x="115.0" y="451.09" font-size="13.8" text-anchor="start" fill="#111" font-weight="normal" >4</text>
<text x="506.79" y="338.00" font-size="14.4" fill="#111" textLength="41.05" lengthAdjust="spacingAndGlyphs">Round</text>
<path d="M451.9 369.79999999999995V614" stroke="#000" stroke-width="2.3"/>
<path d="M450.75 370.9H601.9" stroke="#000" stroke-width="2.0"/>
<text x="460.5" y="360.3" font-size="13.4" text-anchor="middle" fill="#111" font-weight="normal" >1</text>
<text x="477.17" y="360.3" font-size="13.4" text-anchor="middle" fill="#111" font-weight="normal" >2</text>
<text x="493.84000000000003" y="360.3" font-size="13.4" text-anchor="middle" fill="#111" font-weight="normal" >3</text>
<text x="510.51" y="360.3" font-size="13.4" text-anchor="middle" fill="#111" font-weight="normal" >4</text>
<text x="527.18" y="360.3" font-size="13.4" text-anchor="middle" fill="#111" font-weight="normal" >5</text>
<text x="543.85" y="360.3" font-size="13.4" text-anchor="middle" fill="#111" font-weight="normal" >6</text>
<text x="560.52" y="360.3" font-size="13.4" text-anchor="middle" fill="#111" font-weight="normal" >7</text>
<text x="577.19" y="360.3" font-size="13.4" text-anchor="middle" fill="#111" font-weight="normal" >8</text>
<text x="593.86" y="360.3" font-size="13.4" text-anchor="middle" fill="#111" font-weight="normal" >9</text>
<text x="424.36" y="384.10" font-size="13.4" fill="#111" textLength="14.02" lengthAdjust="spacingAndGlyphs">10</text>
<text x="438.9" y="379.45" font-size="9.8" text-anchor="start" fill="#111" font-weight="normal" >0</text>
<text x="424.36" y="410.32" font-size="13.4" fill="#111" textLength="14.02" lengthAdjust="spacingAndGlyphs">10</text>
<text x="438.9" y="405.66999999999996" font-size="9.8" text-anchor="start" fill="#111" font-weight="normal" >1</text>
<text x="424.36" y="436.54" font-size="13.4" fill="#111" textLength="14.02" lengthAdjust="spacingAndGlyphs">10</text>
<text x="438.9" y="431.89" font-size="9.8" text-anchor="start" fill="#111" font-weight="normal" >2</text>
<text x="424.36" y="462.76" font-size="13.4" fill="#111" textLength="14.02" lengthAdjust="spacingAndGlyphs">10</text>
<text x="438.9" y="458.11" font-size="9.8" text-anchor="start" fill="#111" font-weight="normal" >3</text>
<text x="424.36" y="488.98" font-size="13.4" fill="#111" textLength="14.02" lengthAdjust="spacingAndGlyphs">10</text>
<text x="438.9" y="484.33" font-size="9.8" text-anchor="start" fill="#111" font-weight="normal" >4</text>
<text x="424.36" y="515.20" font-size="13.4" fill="#111" textLength="14.02" lengthAdjust="spacingAndGlyphs">10</text>
<text x="438.9" y="510.54999999999995" font-size="9.8" text-anchor="start" fill="#111" font-weight="normal" >5</text>
<text x="424.36" y="541.42" font-size="13.4" fill="#111" textLength="14.02" lengthAdjust="spacingAndGlyphs">10</text>
<text x="438.9" y="536.77" font-size="9.8" text-anchor="start" fill="#111" font-weight="normal" >6</text>
<text x="424.36" y="567.64" font-size="13.4" fill="#111" textLength="14.02" lengthAdjust="spacingAndGlyphs">10</text>
<text x="438.9" y="562.99" font-size="9.8" text-anchor="start" fill="#111" font-weight="normal" >7</text>
<path d="M460.40 370.9V363.8M477.07 370.9V363.8M493.74 370.9V363.8M510.41 370.9V363.8M527.08 370.9V363.8M543.75 370.9V363.8M560.42 370.9V363.8M577.09 370.9V363.8M593.76 370.9V363.8M451.9 378.80H445.1M451.9 405.02H445.1M451.9 431.24H445.1M451.9 457.46H445.1M451.9 483.68H445.1M451.9 509.90H445.1M451.9 536.12H445.1M451.9 562.34H445.1M451.9 588.0H445.1" stroke="#000" stroke-width="2.1"/>
<text x="390.70" y="592.40" font-size="12.9" fill="#111" textLength="54.34" lengthAdjust="spacingAndGlyphs">Not found</text>
<text x="-508.49" y="0" font-size="14.4" fill="#111" textLength="31.89" lengthAdjust="spacingAndGlyphs" transform="translate(409.00 0) rotate(-90)">Rank</text>
<text x="617.11" y="362.70" font-size="13.8" fill="#111" textLength="65.12" lengthAdjust="spacingAndGlyphs">Selection 1</text>
<circle cx="622.9" cy="381.3" r="3.65" fill="#aa0052"/>
<text x="642.21" y="385.70" font-size="13.8" fill="#111" textLength="34.33" lengthAdjust="spacingAndGlyphs">Seq 1</text>
<rect x="619.4" y="401.6" width="6.9" height="6.8" fill="#ee4e58"/>
<text x="642.21" y="409.40" font-size="13.8" fill="#111" textLength="34.39" lengthAdjust="spacingAndGlyphs">Seq 2</text>
<path d="M622.9 424.8L626.7 431.9L619.1 431.9Z" fill="#fbb06e"/>
<text x="642.21" y="433.10" font-size="13.8" fill="#111" textLength="34.26" lengthAdjust="spacingAndGlyphs">Seq 3</text>
<path d="M622.9 456.3L626.7 449.2L619.1 449.2Z" fill="#9e6a0c"/>
<text x="642.21" y="456.80" font-size="13.8" fill="#111" textLength="34.12" lengthAdjust="spacingAndGlyphs">Seq 4</text>
<path d="M622.9 472.5L626.4 476.1L622.9 479.7L619.4 476.1Z" fill="#136533"/>
<text x="642.21" y="480.50" font-size="13.8" fill="#111" textLength="34.26" lengthAdjust="spacingAndGlyphs">Seq 5</text>
<circle cx="622.9" cy="499.8" r="3.30" fill="none" stroke="#7ee597" stroke-width="1.8"/>
<text x="642.21" y="504.20" font-size="13.8" fill="#111" textLength="34.26" lengthAdjust="spacingAndGlyphs">Seq 6</text>
<rect x="619.4" y="520.0" width="7.0" height="7.0" fill="none" stroke="#78a6f8" stroke-width="1.8"/>
<text x="642.21" y="527.90" font-size="13.8" fill="#111" textLength="34.39" lengthAdjust="spacingAndGlyphs">Seq 7</text>
<path d="M622.9 543.6L626.5 550.2L619.3 550.2Z" fill="none" stroke="#142a8c" stroke-width="1.8"/>
<text x="642.21" y="551.60" font-size="13.8" fill="#111" textLength="34.26" lengthAdjust="spacingAndGlyphs">Seq 8</text>
<path d="M622.9 574.5L626.5 567.9L619.3 567.9Z" fill="none" stroke="#5a1280" stroke-width="1.8"/>
<text x="642.21" y="575.30" font-size="13.8" fill="#111" textLength="34.33" lengthAdjust="spacingAndGlyphs">Seq 9</text>
<path d="M622.9 591.1L626.4 594.6L622.9 598.1L619.4 594.6Z" fill="none" stroke="#e8a8f4" stroke-width="1.6"/>
<text x="642.17" y="599.00" font-size="13.8" fill="#111" textLength="44.11" lengthAdjust="spacingAndGlyphs">Seq 10</text>
<path d="M460.4 501.0L463.9 504.5L460.4 508.0L456.9 504.5Z" fill="none" stroke="#e8a8f4" stroke-width="1.6"/>
<path d="M460.4 591.6L464.0 585.0L456.8 585.0Z" fill="none" stroke="#5a1280" stroke-width="1.8"/>
<path d="M460.4 499.4L464.0 506.0L456.8 506.0Z" fill="none" stroke="#142a8c" stroke-width="1.8"/>
<rect x="456.9" y="391.1" width="7.0" height="7.0" fill="none" stroke="#78a6f8" stroke-width="1.8"/>
<circle cx="460.4" cy="394.6" r="3.30" fill="none" stroke="#7ee597" stroke-width="1.8"/>
<path d="M460.4 454.7L463.9 458.3L460.4 461.9L456.9 458.3Z" fill="#136533"/>
<path d="M460.4 461.5L464.2 454.4L456.6 454.4Z" fill="#9e6a0c"/>
<path d="M460.4 414.8L464.2 421.9L456.6 421.9Z" fill="#fbb06e"/>
<rect x="456.9" y="383.1" width="6.9" height="6.8" fill="#ee4e58"/>
<circle cx="460.4" cy="378.8" r="3.65" fill="#aa0052"/>
<path d="M477.1 598.2L480.6 601.7L477.1 605.2L473.6 601.7Z" fill="none" stroke="#e8a8f4" stroke-width="1.6"/>
<path d="M477.1 534.1L480.7 527.5L473.5 527.5Z" fill="none" stroke="#5a1280" stroke-width="1.8"/>
<path d="M477.1 460.4L480.7 467.0L473.5 467.0Z" fill="none" stroke="#142a8c" stroke-width="1.8"/>
<rect x="473.6" y="526.0" width="7.0" height="7.0" fill="none" stroke="#78a6f8" stroke-width="1.8"/>
<circle cx="477.1" cy="588.0" r="3.30" fill="none" stroke="#7ee597" stroke-width="1.8"/>
<path d="M477.1 494.7L480.6 498.3L477.1 501.9L473.6 498.3Z" fill="#136533"/>
<path d="M477.1 532.9L480.9 525.8L473.3 525.8Z" fill="#9e6a0c"/>
<path d="M477.1 495.1L480.9 502.2L473.3 502.2Z" fill="#fbb06e"/>
<rect x="473.6" y="461.3" width="6.9" height="6.8" fill="#ee4e58"/>
<circle cx="477.1" cy="378.8" r="3.65" fill="#aa0052"/>
<path d="M493.7 426.0L497.2 429.5L493.7 433.0L490.2 429.5Z" fill="none" stroke="#e8a8f4" stroke-width="1.6"/>
<path d="M493.7 398.1L497.3 391.5L490.1 391.5Z" fill="none" stroke="#5a1280" stroke-width="1.8"/>
<path d="M493.7 420.9L497.3 427.5L490.1 427.5Z" fill="none" stroke="#142a8c" stroke-width="1.8"/>
<rect x="490.2" y="427.9" width="7.0" height="7.0" fill="none" stroke="#78a6f8" stroke-width="1.8"/>
<circle cx="493.7" cy="417.0" r="3.30" fill="none" stroke="#7ee597" stroke-width="1.8"/>
<path d="M493.7 435.5L497.2 439.1L493.7 442.7L490.2 439.1Z" fill="#136533"/>
<path d="M493.7 479.5L497.5 472.4L489.9 472.4Z" fill="#9e6a0c"/>
<path d="M493.7 388.1L497.5 395.2L489.9 395.2Z" fill="#fbb06e"/>
<rect x="490.3" y="412.4" width="6.9" height="6.8" fill="#ee4e58"/>
<circle cx="493.7" cy="422.4" r="3.65" fill="#aa0052"/>
<path d="M510.4 417.0L513.9 420.5L510.4 424.0L506.9 420.5Z" fill="none" stroke="#e8a8f4" stroke-width="1.6"/>
<path d="M510.4 397.0L514.0 390.4L506.8 390.4Z" fill="none" stroke="#5a1280" stroke-width="1.8"/>
<path d="M510.4 402.9L514.0 409.5L506.8 409.5Z" fill="none" stroke="#142a8c" stroke-width="1.8"/>
<rect x="506.9" y="412.7" width="7.0" height="7.0" fill="none" stroke="#78a6f8" stroke-width="1.8"/>
<circle cx="510.4" cy="407.0" r="3.30" fill="none" stroke="#7ee597" stroke-width="1.8"/>
<path d="M510.4 420.8L513.9 424.4L510.4 428.0L506.9 424.4Z" fill="#136533"/>
<path d="M510.4 452.4L514.2 445.3L506.6 445.3Z" fill="#9e6a0c"/>
<path d="M510.4 375.1L514.2 382.2L506.6 382.2Z" fill="#fbb06e"/>
<rect x="507.0" y="396.1" width="6.9" height="6.8" fill="#ee4e58"/>
<circle cx="510.4" cy="402.5" r="3.65" fill="#aa0052"/>
<path d="M527.1 406.5L530.6 410.0L527.1 413.5L523.6 410.0Z" fill="none" stroke="#e8a8f4" stroke-width="1.6"/>
<path d="M527.1 400.1L530.7 393.5L523.5 393.5Z" fill="none" stroke="#5a1280" stroke-width="1.8"/>
<path d="M527.1 392.9L530.7 399.5L523.5 399.5Z" fill="none" stroke="#142a8c" stroke-width="1.8"/>
<rect x="523.6" y="408.7" width="7.0" height="7.0" fill="none" stroke="#78a6f8" stroke-width="1.8"/>
<circle cx="527.1" cy="405.0" r="3.30" fill="none" stroke="#7ee597" stroke-width="1.8"/>
<path d="M527.1 411.2L530.6 414.8L527.1 418.4L523.6 414.8Z" fill="#136533"/>
<path d="M527.1 433.9L530.9 426.8L523.3 426.8Z" fill="#9e6a0c"/>
<path d="M527.1 375.1L530.9 382.2L523.3 382.2Z" fill="#fbb06e"/>
<rect x="523.6" y="383.9" width="6.9" height="6.8" fill="#ee4e58"/>
<circle cx="527.1" cy="390.5" r="3.65" fill="#aa0052"/>
<path d="M543.8 402.5L547.2 406.0L543.8 409.5L540.2 406.0Z" fill="none" stroke="#e8a8f4" stroke-width="1.6"/>
<path d="M543.8 408.6L547.4 402.0L540.1 402.0Z" fill="none" stroke="#5a1280" stroke-width="1.8"/>
<path d="M543.8 392.9L547.4 399.5L540.1 399.5Z" fill="none" stroke="#142a8c" stroke-width="1.8"/>
<rect x="540.2" y="403.4" width="7.0" height="7.0" fill="none" stroke="#78a6f8" stroke-width="1.8"/>
<circle cx="543.8" cy="397.1" r="3.30" fill="none" stroke="#7ee597" stroke-width="1.8"/>
<path d="M543.8 408.4L547.2 412.0L543.8 415.6L540.2 412.0Z" fill="#136533"/>
<path d="M543.8 419.9L547.5 412.8L540.0 412.8Z" fill="#9e6a0c"/>
<path d="M543.8 389.1L547.5 396.2L540.0 396.2Z" fill="#fbb06e"/>
<rect x="540.3" y="383.3" width="6.9" height="6.8" fill="#ee4e58"/>
<circle cx="543.8" cy="378.7" r="3.65" fill="#aa0052"/>
<path d="M560.4 407.2L563.9 410.7L560.4 414.2L556.9 410.7Z" fill="none" stroke="#e8a8f4" stroke-width="1.6"/>
<path d="M560.4 404.6L564.0 398.0L556.8 398.0Z" fill="none" stroke="#5a1280" stroke-width="1.8"/>
<path d="M560.4 389.9L564.0 396.5L556.8 396.5Z" fill="none" stroke="#142a8c" stroke-width="1.8"/>
<rect x="556.9" y="397.5" width="7.0" height="7.0" fill="none" stroke="#78a6f8" stroke-width="1.8"/>
<circle cx="560.4" cy="397.7" r="3.30" fill="none" stroke="#7ee597" stroke-width="1.8"/>
<path d="M560.4 404.4L563.9 408.0L560.4 411.6L556.9 408.0Z" fill="#136533"/>
<path d="M560.4 410.4L564.2 403.3L556.6 403.3Z" fill="#9e6a0c"/>
<path d="M560.4 390.6L564.2 397.7L556.6 397.7Z" fill="#fbb06e"/>
<rect x="557.0" y="383.3" width="6.9" height="6.8" fill="#ee4e58"/>
<circle cx="560.4" cy="378.7" r="3.65" fill="#aa0052"/>
<path d="M577.1 403.9L580.6 407.4L577.1 410.9L573.6 407.4Z" fill="none" stroke="#e8a8f4" stroke-width="1.6"/>
<path d="M577.1 409.6L580.7 403.0L573.5 403.0Z" fill="none" stroke="#5a1280" stroke-width="1.8"/>
<path d="M577.1 397.4L580.7 404.0L573.5 404.0Z" fill="none" stroke="#142a8c" stroke-width="1.8"/>
<rect x="573.6" y="399.0" width="7.0" height="7.0" fill="none" stroke="#78a6f8" stroke-width="1.8"/>
<circle cx="577.1" cy="397.7" r="3.30" fill="none" stroke="#7ee597" stroke-width="1.8"/>
<path d="M577.1 399.4L580.6 403.0L577.1 406.6L573.6 403.0Z" fill="#136533"/>
<path d="M577.1 402.4L580.9 395.3L573.3 395.3Z" fill="#9e6a0c"/>
<path d="M577.1 388.6L580.9 395.7L573.3 395.7Z" fill="#fbb06e"/>
<rect x="573.6" y="383.3" width="6.9" height="6.8" fill="#ee4e58"/>
<circle cx="577.1" cy="378.7" r="3.65" fill="#aa0052"/>
<path d="M593.8 400.5L597.3 404.0L593.8 407.5L590.3 404.0Z" fill="none" stroke="#e8a8f4" stroke-width="1.6"/>
<path d="M593.8 409.1L597.4 402.5L590.2 402.5Z" fill="none" stroke="#5a1280" stroke-width="1.8"/>
<path d="M593.8 400.4L597.4 407.0L590.2 407.0Z" fill="none" stroke="#142a8c" stroke-width="1.8"/>
<rect x="590.3" y="399.5" width="7.0" height="7.0" fill="none" stroke="#78a6f8" stroke-width="1.8"/>
<circle cx="593.8" cy="400.7" r="3.30" fill="none" stroke="#7ee597" stroke-width="1.8"/>
<path d="M593.8 394.4L597.3 398.0L593.8 401.6L590.3 398.0Z" fill="#136533"/>
<path d="M593.8 401.4L597.6 394.3L590.0 394.3Z" fill="#9e6a0c"/>
<path d="M593.8 389.1L597.6 396.2L590.0 396.2Z" fill="#fbb06e"/>
<rect x="590.3" y="383.3" width="6.9" height="6.8" fill="#ee4e58"/>
<circle cx="593.8" cy="378.7" r="3.65" fill="#aa0052"/>
</svg>
</body></html>
